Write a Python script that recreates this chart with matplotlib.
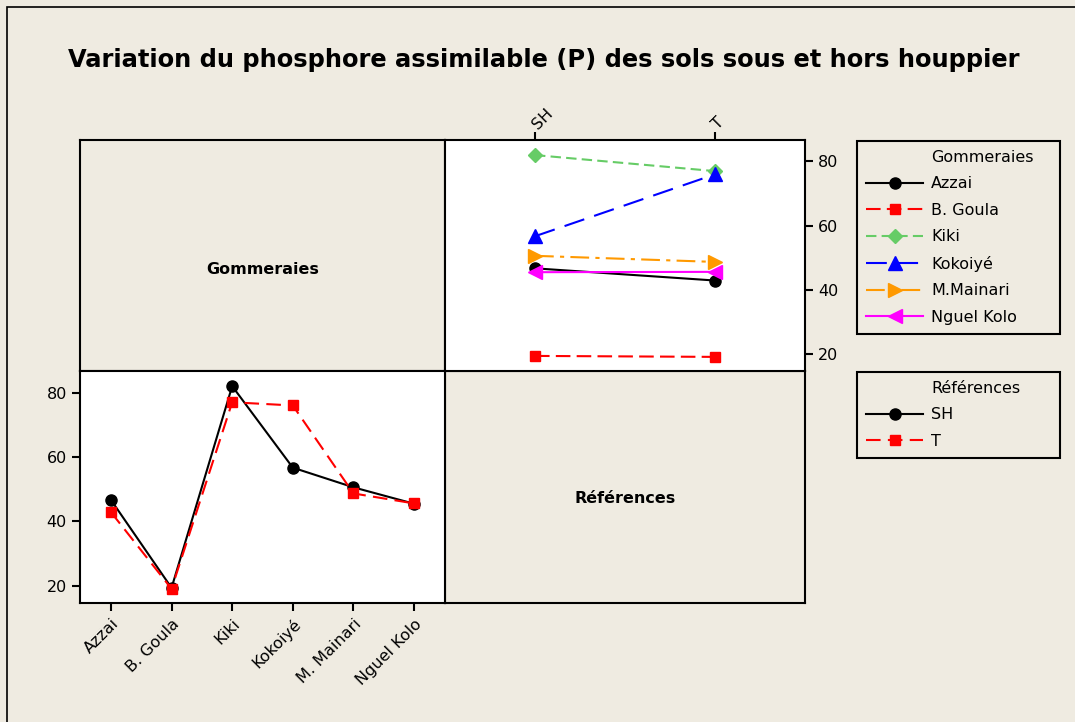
import matplotlib
matplotlib.use("Agg")
import matplotlib.pyplot as plt
from matplotlib.lines import Line2D
from matplotlib.patches import Rectangle

# Interaction plot data: phosphore assimilable (P) per gommeraie, SH vs T
gommeraies = ["Azzai", "B. Goula", "Kiki", "Kokoiyé", "M.Mainari", "Nguel Kolo"]
gomm_ticklabels = ["Azzai", "B. Goula", "Kiki", "Kokoiyé", "M. Mainari", "Nguel Kolo"]
references = ["SH", "T"]
p_sh = [46.7, 19.4, 82.0, 56.7, 50.6, 45.5]
p_t = [42.9, 19.1, 77.0, 76.0, 48.7, 45.6]
y_ticks = [20, 40, 60, 80]

BG = "#efebe1"
W, H = 1075, 722

# style per gommeraie (colour, marker, size, dashes)
g_style = [
    ("black",   "o", 8,   "-"),
    ("#ff0000", "s", 7.5, (0, (7, 3))),
    ("#66cc66", "D", 7,   (0, (5, 2.5))),
    ("#0000ff", "^", 10,  (0, (10, 5))),
    ("#ff9900", ">", 10,  (0, (9, 3, 2, 3))),
    ("#ff00ff", "<", 10,  "-"),
]
r_style = [
    ("black",   "o", 8,   "-"),
    ("#ff0000", "s", 7.5, (0, (7, 3.5))),
]

plt.rcParams["font.family"] = ["DejaVu Sans"]

fig = plt.figure(figsize=(W / 100, H / 100), dpi=100, facecolor=BG)
fig.patches.append(Rectangle((7 / W, -0.05), 1.1, 1 - 7 / H + 0.05, transform=fig.transFigure,
                             fill=False, edgecolor="black", linewidth=1.2))


def box(x0, y0, x1, y1):
    return [x0 / W, 1 - y1 / H, (x1 - x0) / W, (y1 - y0) / H]


def frame(ax):
    for s in ax.spines.values():
        s.set_linewidth(1.5)
    ax.tick_params(length=6, width=1.5, labelsize=11.5, direction="out")


YLIM = (14.7, 86.7)

# top-left label panel
ax_tl = fig.add_axes(box(80, 140, 445, 371), facecolor=BG)
frame(ax_tl)
ax_tl.set_xticks([]); ax_tl.set_yticks([])
ax_tl.text(0.5, 0.44, "Gommeraies", transform=ax_tl.transAxes, ha="center", va="center",
           fontsize=11.5, fontweight="bold")

# bottom-right label panel
ax_br = fig.add_axes(box(445, 371, 805, 603), facecolor=BG)
frame(ax_br)
ax_br.set_xticks([]); ax_br.set_yticks([])
ax_br.text(0.5, 0.45, "Références", transform=ax_br.transAxes, ha="center", va="center",
           fontsize=11.5, fontweight="bold")

# top-right: x = reference, lines = gommeraies
ax_tr = fig.add_axes(box(445, 140, 805, 371), facecolor="white")
frame(ax_tr)
for i, name in enumerate(gommeraies):
    c, m, ms, ls = g_style[i]
    ax_tr.plot([0, 1], [p_sh[i], p_t[i]], color=c, marker=m, markersize=ms,
               linestyle=ls, linewidth=1.5, label=name)
ax_tr.set_xlim(-0.5, 1.5)
ax_tr.set_ylim(*YLIM)
ax_tr.set_xticks([0, 1])
ax_tr.set_xticklabels(references)
ax_tr.xaxis.tick_top()
ax_tr.yaxis.tick_right()
ax_tr.set_yticks(y_ticks)
for lab in ax_tr.get_xticklabels():
    lab.set_rotation(45)
    lab.set_rotation_mode("anchor")
    lab.set_ha("left")
    lab.set_va("center")

# bottom-left: x = gommeraie, lines = references
ax_bl = fig.add_axes(box(80, 371, 445, 603), facecolor="white")
frame(ax_bl)
x = list(range(len(gommeraies)))
for j, (name, vals) in enumerate(zip(references, [p_sh, p_t])):
    c, m, ms, ls = r_style[j]
    ax_bl.plot(x, vals, color=c, marker=m, markersize=ms, linestyle=ls,
               linewidth=1.5, label=name)
ax_bl.set_xlim(-0.51, 5.51)
ax_bl.set_ylim(*YLIM)
ax_bl.set_xticks(x)
ax_bl.set_xticklabels(gomm_ticklabels, rotation=45, ha="right", rotation_mode="anchor")
ax_bl.set_yticks(y_ticks)

# legends (title as first, handle-less row)
blank = Line2D([], [], linestyle="none")


def make_legend(handles, labels, top, bottom):
    leg = fig.legend([blank] + handles, labels, loc="upper left",
                     bbox_to_anchor=(857 / W, 1 - bottom / H, (1060 - 857) / W, (bottom - top) / H),
                     mode="expand", borderaxespad=0, fontsize=11.5, frameon=True,
                     fancybox=False, facecolor=BG, edgecolor="black", framealpha=1,
                     handlelength=3.6, handletextpad=0.5, labelspacing=0.72,
                     borderpad=0.55)
    leg.get_frame().set_linewidth(1.5)
    return leg


h_tr, l_tr = ax_tr.get_legend_handles_labels()
make_legend(h_tr, ["Gommeraies"] + l_tr, 141, 332)
h_bl, l_bl = ax_bl.get_legend_handles_labels()
make_legend(h_bl, ["Références"] + l_bl, 372, 458)

fig.text(544 / W, 1 - 60 / H, "Variation du phosphore assimilable (P) des sols sous et hors houppier",
         ha="center", va="center", fontsize=17.4, fontweight="bold")

fig.savefig("out.png", dpi=100, facecolor=BG)
